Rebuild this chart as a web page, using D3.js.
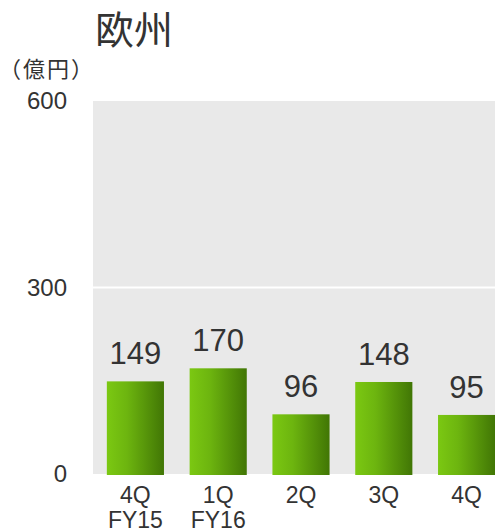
<!DOCTYPE html>
<html><head><meta charset="utf-8">
<script src="https://cdn.jsdelivr.net/npm/d3@7"></script>
<style>
body{margin:0;background:#fff;}
svg{display:block;font-family:Arial,"Liberation Sans",sans-serif;}
</style></head>
<body>
<svg id="c" width="495" height="531"></svg>
<script>
const categories = [["4Q","FY15"],["1Q","FY16"],["2Q"],["3Q"],["4Q"]];
const values = [149, 170, 96, 148, 95];
const yTicks = [0, 300, 600];
const title = "欧州";
const unit = "（億円）";

const svg = d3.select("#c");
const x = d3.scaleBand().domain(d3.range(values.length)).range([94, 508]).paddingInner(0.31).paddingOuter(0.155);
const y = d3.scaleLinear().domain([0, 600]).range([474, 101]);

const defs = svg.append("defs");
const g = defs.append("linearGradient").attr("id","gr").attr("x1","0").attr("x2","1").attr("y1","0").attr("y2","0");
g.append("stop").attr("offset","0").attr("stop-color","#7bc812");
g.append("stop").attr("offset","0.35").attr("stop-color","#6db50f");
g.append("stop").attr("offset","1").attr("stop-color","#417605");

svg.append("rect").attr("x",93).attr("y",y(600)).attr("width",495-93).attr("height",y(0)-y(600)).attr("fill","#e9e9e9");

svg.selectAll(".grid").data(yTicks.filter(d=>d>0 && d<600)).enter().append("line")
  .attr("x1",93).attr("x2",495).attr("y1",d=>y(d)).attr("y2",d=>y(d))
  .attr("stroke","#fff").attr("stroke-width",2);

svg.selectAll(".yl").data(yTicks).enter().append("text")
  .attr("x",67).attr("y",d=>y(d)).attr("dy","0.35em").attr("text-anchor","end")
  .attr("font-size",24).attr("fill","#333").text(d=>d);

svg.selectAll(".bar").data(values).enter().append("rect")
  .attr("x",(d,i)=>x(i)).attr("width",x.bandwidth())
  .attr("y",d=>y(d)).attr("height",d=>y(0)-y(d)+1).attr("fill","url(#gr)");

svg.selectAll(".vl").data(values).enter().append("text")
  .attr("x",(d,i)=>x(i)+x.bandwidth()/2).attr("y",d=>y(d)-17)
  .attr("text-anchor","middle").attr("font-size",31).attr("fill","#333").text(d=>d);

const cl = svg.selectAll(".cl").data(categories).enter().append("text")
  .attr("text-anchor","middle").attr("font-size",23).attr("fill","#333")
  .attr("transform",(d,i)=>`translate(${x(i)+x.bandwidth()/2},503)`);
cl.selectAll("tspan").data(d=>d).enter().append("tspan")
  .attr("x",0).attr("dy",(d,j)=>j===0?0:25).text(d=>d);

svg.append("text").attr("x",95).attr("y",44).attr("font-size",39).attr("fill","#333")
  .attr("font-family","'Noto Sans CJK JP',sans-serif").text(title);
svg.append("text").attr("x",-1).attr("y",77).attr("font-size",22).attr("fill","#333")
  .attr("letter-spacing",2)
  .attr("font-family","'Noto Sans CJK JP',sans-serif").text(unit);
</script>
</body></html>
